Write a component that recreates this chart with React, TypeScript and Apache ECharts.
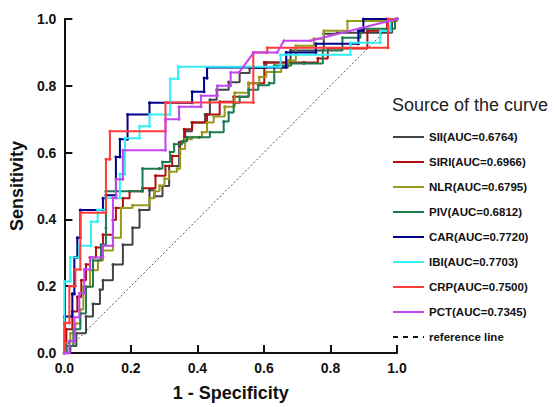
import React, { useEffect, useRef } from "react";
import * as echarts from "echarts";

// ROC curves: [1 - specificity, sensitivity]
const SII: [number, number][] = [
  [0, 0], [0.009, 0], [0.018, 0.021], [0.036, 0.059], [0.065, 0.109], [0.086, 0.147],
  [0.107, 0.189], [0.116, 0.218], [0.146, 0.265], [0.176, 0.324], [0.205, 0.375],
  [0.226, 0.428], [0.256, 0.487], [0.271, 0.469], [0.295, 0.5], [0.315, 0.56],
  [0.345, 0.631], [0.363, 0.664], [0.384, 0.69], [0.423, 0.714], [0.4375, 0.758],
  [0.458, 0.788], [0.494, 0.811], [0.527, 0.838], [0.557, 0.853], [0.607, 0.87],
  [0.68, 0.906], [0.78, 0.956], [0.82, 0.959], [0.985, 0.994], [1, 1],
];
const SIRI: [number, number][] = [
  [0, 0], [0.006, 0.071], [0.024, 0.124], [0.039, 0.168], [0.051, 0.218], [0.065, 0.265],
  [0.077, 0.286], [0.095, 0.316], [0.116, 0.354], [0.146, 0.398], [0.155, 0.434],
  [0.176, 0.463], [0.196, 0.484], [0.235, 0.493], [0.274, 0.531], [0.304, 0.56],
  [0.324, 0.59], [0.348, 0.631], [0.36, 0.67], [0.384, 0.69], [0.429, 0.714],
  [0.467, 0.752], [0.509, 0.767], [0.554, 0.808], [0.601, 0.87], [0.72, 0.87],
  [0.762, 0.882], [0.792, 0.912], [0.911, 0.965], [0.97, 0.965], [0.97, 1], [1, 1],
];
const NLR: [number, number][] = [
  [0, 0], [0.003, 0.03], [0.018, 0.059], [0.033, 0.088], [0.048, 0.13], [0.057, 0.198],
  [0.077, 0.248], [0.101, 0.277], [0.116, 0.307], [0.146, 0.345], [0.17, 0.434],
  [0.205, 0.442], [0.256, 0.463], [0.271, 0.484], [0.286, 0.501], [0.301, 0.522],
  [0.315, 0.543], [0.339, 0.552], [0.348, 0.611], [0.363, 0.64], [0.384, 0.646],
  [0.414, 0.661], [0.429, 0.69], [0.449, 0.708], [0.482, 0.737], [0.512, 0.779],
  [0.554, 0.808], [0.586, 0.826], [0.607, 0.841], [0.652, 0.855], [0.673, 0.876],
  [0.696, 0.92], [0.75, 0.941], [0.78, 0.965], [0.851, 0.994], [0.988, 0.994], [1, 1],
];
const PIV: [number, number][] = [
  [0, 0], [0.006, 0.021], [0.027, 0.071], [0.048, 0.118], [0.065, 0.198], [0.086, 0.277],
  [0.11, 0.324], [0.125, 0.375], [0.125, 0.484], [0.235, 0.484], [0.235, 0.552],
  [0.286, 0.552], [0.295, 0.572], [0.318, 0.602], [0.33, 0.625], [0.354, 0.634],
  [0.369, 0.646], [0.405, 0.646], [0.4375, 0.661], [0.479, 0.693], [0.494, 0.72],
  [0.509, 0.749], [0.527, 0.767], [0.554, 0.788], [0.583, 0.802], [0.616, 0.808],
  [0.631, 0.861], [0.682, 0.867], [0.72, 0.867], [0.777, 0.906], [0.836, 0.944],
  [0.89, 0.971], [0.994, 1], [1, 1],
];
const CAR: [number, number][] = [
  [0, 0], [0, 0.109], [0.024, 0.109], [0.024, 0.177], [0.03, 0.177], [0.03, 0.286],
  [0.039, 0.286], [0.039, 0.345], [0.048, 0.345], [0.048, 0.428], [0.116, 0.428],
  [0.116, 0.463], [0.125, 0.463], [0.125, 0.472], [0.155, 0.472], [0.155, 0.587],
  [0.167, 0.587], [0.167, 0.64], [0.19, 0.64], [0.19, 0.714], [0.256, 0.714],
  [0.256, 0.749], [0.384, 0.749], [0.384, 0.782], [0.42, 0.782], [0.42, 0.823],
  [0.429, 0.823], [0.429, 0.855], [0.667, 0.855], [0.667, 0.9], [0.756, 0.9],
  [0.756, 0.926], [0.884, 0.926], [0.884, 0.965], [0.899, 0.965], [0.899, 1], [1, 1],
];
const IBI: [number, number][] = [
  [0, 0], [0, 0.214], [0.018, 0.214], [0.018, 0.286], [0.045, 0.286], [0.045, 0.321],
  [0.08, 0.321], [0.08, 0.393], [0.1, 0.393], [0.1, 0.429], [0.125, 0.429],
  [0.125, 0.464], [0.167, 0.464], [0.167, 0.536], [0.182, 0.536], [0.182, 0.643],
  [0.226, 0.643], [0.226, 0.679], [0.256, 0.679], [0.256, 0.714], [0.318, 0.714],
  [0.318, 0.821], [0.342, 0.821], [0.342, 0.857], [0.65, 0.857], [0.65, 0.893],
  [0.86, 0.893], [0.86, 0.929], [0.95, 0.929], [0.95, 0.964], [0.98, 0.964], [0.98, 1], [1, 1],
];
const CRP: [number, number][] = [
  [0, 0], [0, 0.09], [0.015, 0.09], [0.015, 0.2], [0.033, 0.2], [0.033, 0.25],
  [0.048, 0.25], [0.048, 0.42], [0.125, 0.42], [0.125, 0.58], [0.137, 0.58],
  [0.137, 0.664], [0.304, 0.664], [0.304, 0.75], [0.568, 0.75], [0.568, 0.9],
  [0.61, 0.9], [0.61, 0.914], [0.973, 0.914], [0.973, 1], [1, 1],
];
const PCT: [number, number][] = [
  [0, 0], [0.015, 0], [0.015, 0.036], [0.03, 0.036], [0.03, 0.107], [0.045, 0.107],
  [0.045, 0.179], [0.06, 0.179], [0.06, 0.25], [0.077, 0.25], [0.077, 0.286],
  [0.116, 0.286], [0.116, 0.321], [0.146, 0.321], [0.146, 0.464], [0.155, 0.464],
  [0.155, 0.52], [0.176, 0.52], [0.176, 0.607], [0.304, 0.607], [0.304, 0.7],
  [0.345, 0.7], [0.345, 0.737], [0.411, 0.737], [0.411, 0.77], [0.46, 0.77],
  [0.46, 0.8], [0.5, 0.8], [0.5, 0.84], [0.525, 0.84], [0.57, 0.9], [0.64, 0.9],
  [0.66, 0.935], [0.74, 0.935], [1, 1],
];
const REFERENCE: [number, number][] = [[0, 0], [1, 1]];

const NAMES = [
  "SII(AUC=0.6764)", "SIRI(AUC=0.6966)", "NLR(AUC=0.6795)", "PIV(AUC=0.6812)",
  "CAR(AUC=0.7720)", "IBI(AUC=0.7703)", "CRP(AUC=0.7500)", "PCT(AUC=0.7345)",
];
const REF_NAME = "reference line";
const DATASETS = [SII, SIRI, NLR, PIV, CAR, IBI, CRP, PCT];
const STEPPED = [true, true, true, true, false, false, false, false];
const COLORS = ["#444444", "#b01010", "#999920", "#1f7a50", "#00008b", "#33eef5", "#ff3b3b", "#c444ee"];
const TICKS = [0, 0.2, 0.4, 0.6, 0.8, 1.0];

const FONT = "'Liberation Sans', Arial, sans-serif";

export default function App() {
  const ref = useRef<HTMLDivElement>(null);
  useEffect(() => {
    if (!ref.current) return;
    const chart = echarts.init(ref.current, undefined, { renderer: "svg" });
    const axisCommon = {
      type: "value" as const,
      min: 0,
      max: 1,
      interval: 0.2,
      axisLine: { show: true, lineStyle: { color: "#111", width: 2 } },
      axisTick: { show: true, inside: true, length: 8, lineStyle: { color: "#111", width: 2 } },
      axisLabel: {
        color: "#111",
        fontSize: 14,
        fontWeight: "bold" as const,
        fontFamily: FONT,
        margin: 8,
        formatter: (v: number) => (TICKS.some((t) => Math.abs(t - v) < 1e-9) ? v.toFixed(1) : ""),
      },
      splitLine: { show: false },
      nameLocation: "middle" as const,
      nameTextStyle: { color: "#111", fontSize: 18, fontWeight: "bold" as const, fontFamily: FONT },
    };
    const series: any[] = DATASETS.map((d, i) => ({
      name: NAMES[i],
      type: "line",
      data: d,
      step: STEPPED[i] ? "end" : undefined,
      showSymbol: true,
      symbol: "circle",
      symbolSize: 3,
      lineStyle: { color: COLORS[i], width: 2 },
      itemStyle: { color: COLORS[i] },
      clip: false,
      z: 3 + i,
    }));
    series.push({
      name: REF_NAME,
      type: "line",
      data: REFERENCE,
      symbol: "none",
      showSymbol: false,
      lineStyle: { color: "#555", width: 1, type: [2, 2] },
      itemStyle: { color: "#111" },
      z: 2,
    });
    chart.setOption({
      animation: false,
      backgroundColor: "#fff",
      title: {
        text: "Source of the curve",
        left: 392,
        top: 96,
        padding: 0,
        textStyle: { fontSize: 18, fontWeight: "normal", color: "#222", fontFamily: FONT },
      },
      legend: {
        orient: "vertical",
        left: 392,
        top: 130,
        padding: 0,
        itemWidth: 31,
        itemHeight: 2,
        itemGap: 11,
        itemTextGap: 4,
        selectedMode: false,
        lineStyle: { color: "#111", width: 2, type: [5, 5] },
        textStyle: { fontSize: 11.5, fontWeight: "bold", color: "#111", fontFamily: FONT, lineHeight: 14 },
        data: [
          ...NAMES.map((n) => ({ name: n, icon: "rect" })),
          { name: REF_NAME, itemStyle: { opacity: 0 } },
        ],
      },
      grid: { left: 61, right: 158, top: 19, bottom: 50, containLabel: false },
      xAxis: { ...axisCommon, name: "1 - Specificity", nameGap: 31 },
      yAxis: { ...axisCommon, name: "Sensitivity", nameGap: 35 },
      series,
    });
    return () => chart.dispose();
  }, []);
  return (
    <div
      ref={ref}
      style={{ position: "absolute", left: 0, top: 0, width: 555, height: 407 }}
    />
  );
}
